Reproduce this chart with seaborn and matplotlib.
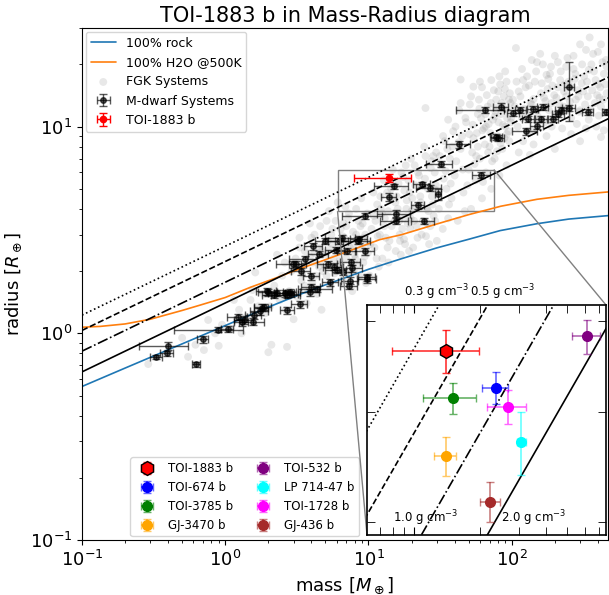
import numpy as np
import matplotlib
matplotlib.use("Agg")
import matplotlib.pyplot as plt
import seaborn as sns
from matplotlib.colors import to_rgba
from matplotlib.ticker import NullFormatter
from mpl_toolkits.axes_grid1.inset_locator import mark_inset

# ---------------- data ----------------
title = "TOI-1883 b in Mass-Radius diagram"

# model curves
rock_mass = [0.1, 0.2, 0.5, 1.0, 2.0, 3.3, 5.0, 10.0, 16.8, 30.0, 50.0, 83.0, 150.0, 250.0, 470.0]
rock_rad = [0.553, 0.679, 0.889, 1.09, 1.338, 1.54, 1.716, 2.04, 2.29, 2.59, 2.85, 3.14, 3.39, 3.57, 3.71]
h2o_mass = [0.1, 0.134, 0.2, 0.3, 0.5, 0.67, 1.0, 1.5, 2.2, 3.3, 5.0, 8.0, 12.0, 17.0, 30.0, 50.0, 84.0, 150.0, 250.0, 470.0]
h2o_rad = [1.07, 1.08, 1.11, 1.17, 1.29, 1.37, 1.49, 1.67, 1.84, 2.05, 2.27, 2.56, 2.84, 3.00, 3.38, 3.75, 4.12, 4.45, 4.65, 4.83]

densities = [0.3, 0.5, 1.0, 2.0]          # g cm^-3
dens_styles = [":", "--", "-.", "-"]

# FGK systems (mass, radius)
fgk_mass = [0.29, 0.55, 0.71, 0.76, 0.5, 0.62, 0.85, 0.95, 0.9,
            1.1, 1.25, 1.4, 1.5, 1.62, 1.7, 1.85, 2.0, 2.1, 2.7, 3.0, 2.2, 2.4, 2.5, 2.6, 2.8, 1.3, 1.9, 2.3, 2.9, 1.55, 2.05, 1.15, 2.65,
            3.2, 3.4, 3.5, 3.6, 3.8, 4.0, 4.1, 4.3, 4.5, 4.6, 4.8, 5.0, 5.2, 5.4, 5.5, 5.7, 5.9, 6.0, 6.2, 6.4, 6.6, 6.8, 7.0, 7.2, 7.4,
            7.6, 7.8, 8.0, 8.2, 8.4, 8.6, 8.8, 9.0, 9.2, 9.5, 9.8, 3.3, 3.9, 4.4, 5.3, 6.1, 6.9, 7.7, 8.9, 9.6, 3.1, 3.7, 4.2, 4.9, 5.6,
            6.3, 7.1, 7.9, 8.5, 9.3, 9.9, 10.2, 4.7, 5.1, 6.5, 7.3, 8.1, 3.45, 4.05, 5.8, 6.7,
            10.5, 11, 11.5, 12, 12.5, 13, 13.5, 14, 14.5, 15, 15.5, 16, 16.5, 17, 17.5, 18, 18.5, 19, 19.5, 20, 21, 22, 23, 24, 25, 26,
            27, 28, 29, 30, 10.8, 11.8, 12.8, 13.8, 14.8, 15.8, 16.8, 17.8, 18.8, 19.8, 20.5, 21.5, 22.5, 23.5, 24.5, 25.5, 26.5, 27.5,
            28.5, 29.5, 11.2, 12.2, 13.2, 14.2, 15.2, 16.2, 17.2, 18.2, 19.2, 20.2, 11.6, 13.7, 15.7, 17.7, 19.7, 21.7, 23.7, 25.7, 27.7, 29.7,
            31, 32, 33, 34, 35, 36, 37, 38, 39, 40, 42, 44, 46, 48, 50, 52, 54, 56, 58, 60, 62, 64, 66, 68, 70, 72, 74, 76, 78, 80, 82, 84,
            86, 88, 90, 92, 94, 96, 98, 99, 33.5, 36.5, 41, 45, 49, 53, 57, 61, 65, 69, 73, 77, 81, 85, 89, 93, 97, 38.5, 43, 51, 59, 67,
            75, 83, 34.5, 47, 55, 63, 71, 79, 87, 95,
            105, 110, 115, 120, 125, 130, 135, 140, 145, 150, 160, 170, 180, 190, 200, 210, 220, 230, 240, 250, 260, 270, 280, 290, 300,
            320, 340, 360, 380, 400, 420, 440, 460, 108, 118, 128, 138, 148, 158, 168, 178, 188, 198, 215, 235, 255, 275, 295, 315, 335,
            355, 375, 395, 415, 435, 112, 142, 175, 225, 285, 345, 405, 455, 245, 165,
            107, 200, 300, 400, 150, 350, 90, 60, 44, 54, 25, 420, 134, 200, 300,
            3.3, 3.6, 4.2, 4.7, 5.1, 5.6, 6.1, 6.6, 7.3, 7.9, 8.4, 9.1, 9.7, 3.9, 4.5, 5.4, 6.4, 7.0, 8.2, 9.4,
            10.3, 10.9, 11.4, 12.1, 12.9, 13.6, 14.4, 15.4, 16.4, 17.4, 18.4, 19.4, 20.8, 22.2, 23.2, 24.8, 26.2, 27.2, 28.8, 29.2,
            12.4, 16.6, 21.2, 25.2, 28.2,
            31.5, 33.2, 35.5, 37.5, 40.5, 42.5, 45.5, 47.5, 50.5, 53.5, 56.5, 59.5, 62.5, 65.5, 68.5, 71.5, 74.5, 77.5, 80.5, 83.5,
            86.5, 89.5, 92.5, 95.5, 98.5, 36, 44, 52, 62, 72, 82, 92, 58, 66, 76,
            102, 112, 122, 132, 142, 152, 162, 172, 182, 192, 205, 218, 232, 248, 262, 278, 292, 308, 325, 345, 365, 385, 410, 430, 450,
            118, 138, 158, 185, 210, 240, 270, 310, 330, 370, 420, 460, 128, 190, 260, 330, 390, 440, 120, 175]
fgk_rad = [0.71, 0.77, 0.83, 1.16, 0.95, 0.88, 1.0, 1.1, 0.87,
           1.05, 1.3, 1.2, 1.45, 1.97, 1.35, 1.55, 0.81, 0.88, 0.86, 1.17, 1.7, 1.45, 1.9, 2.2, 1.6, 1.0, 1.25, 2.4, 2.0, 1.62, 1.35, 1.45, 1.3,
           1.5, 1.8, 2.1, 2.5, 1.6, 2.9, 2.2, 1.9, 2.6, 3.3, 2.0, 2.4, 2.8, 1.7, 3.0, 2.3, 3.5, 2.0, 2.6, 3.2, 1.8, 2.9, 2.3, 3.6, 2.6,
           2.1, 3.1, 2.4, 4.0, 2.8, 1.9, 3.3, 2.6, 2.2, 3.0, 3.8, 2.6, 3.4, 1.55, 3.9, 4.3, 4.1, 1.6, 4.5, 1.75, 2.3, 1.4, 2.45, 2.15, 2.7,
           2.25, 2.75, 2.0, 3.5, 2.9, 2.45, 1.9, 1.3, 3.5, 2.55, 1.95, 2.3, 1.95, 1.75, 1.95, 3.4,
           3.2, 2.6, 4.2, 3.0, 2.3, 3.6, 4.8, 2.8, 3.3, 5.2, 2.5, 4.0, 3.0, 6.0, 3.6, 2.7, 4.4, 5.5, 3.2, 3.9, 6.5, 2.9, 4.6, 3.5, 7.2, 5.0,
           3.3, 4.2, 6.0, 2.8, 4.8, 2.1, 5.5, 2.2, 6.2, 3.8, 2.4, 4.9, 3.4, 7.0, 2.6, 4.1, 5.8, 3.0, 8.0, 4.0, 2.7, 6.8,
           3.7, 5.2, 3.5, 4.0, 2.9, 4.5, 3.5, 5.3, 3.2, 6.5, 2.5, 4.5, 2.95, 3.9, 4.6, 2.85, 3.6, 3.3, 5.2, 3.4, 4.6, 7.5,
           4.0, 6.5, 3.2, 8.5, 5.0, 3.6, 7.0, 4.5, 9.5, 5.8, 3.5, 7.8, 4.8, 10.5, 6.2, 4.0, 8.8, 5.5, 11.5, 7.0, 4.5, 9.8, 6.0, 12.5, 8.0,
           5.0, 10.8, 7.0, 13.5, 9.0, 5.8, 11.5, 7.8, 14.0, 10.0, 6.5, 12.0, 8.5, 13.0, 11.0, 5.6, 4.2, 6.8, 9.0, 5.2, 7.5, 9.3, 11.0, 8.2,
           10.3, 6.8, 11.8, 10.5, 13.0, 8.8, 11.0, 14.5, 8.0, 12.0, 12.8, 13.5, 14.2, 15.0, 16.0, 6.1, 3.9, 6.6, 5.4, 9.3, 7.6, 10.2, 9.5,
           12.5, 10.0, 14.0, 8.5, 15.5, 11.5, 13.0, 9.5, 16.5, 12.0, 14.5, 10.5, 17.0, 13.0, 11.5, 15.5, 18.5, 12.5, 14.0, 16.5, 11.0,
           19.0, 13.5, 15.0, 12.0, 17.5, 14.0, 20.0, 13.0, 16.0, 12.5, 18.0, 14.5, 16.5, 11.0, 17.5, 12.8, 18.5, 10.8, 13.8, 15.2, 19.5,
           14.2, 12.8, 16.0, 13.2, 17.0, 11.8, 14.8, 16.5, 12.2, 18.5, 14.2, 15.5, 13.5, 7.5, 8.2, 9.0, 9.8, 10.3, 10.8, 11.3, 21.0, 21.5, 20.0,
           24.0, 22.0, 25.0, 23.0, 20.5, 27.0, 18.5, 16.5, 16.9, 15.6, 12.3, 8.9, 7.3, 7.8, 8.5,
           2.9, 1.7, 3.0, 2.5, 1.9, 3.2, 2.45, 2.95, 3.8, 2.65, 2.15, 3.4, 2.75, 2.35, 2.1, 2.55, 2.15, 3.3, 3.0, 2.35,
           2.7, 3.7, 2.3, 4.6, 3.3, 2.6, 5.0, 4.3, 3.5, 5.7, 4.0, 4.8, 3.5, 6.0, 4.3, 5.6, 3.9, 6.3, 5.0, 3.5,
           3.8, 2.8, 5.2, 2.95, 7.2,
           7.2, 9.0, 7.8, 5.3, 10.0, 8.4, 6.2, 11.0, 9.2, 10.2, 7.2, 12.2, 9.6, 11.5, 7.5, 13.0, 9.0, 12.3, 14.8, 8.3,
           12.5, 15.2, 9.2, 13.5, 10.5, 10.8, 13.0, 14.0, 15.5, 16.8, 17.5, 16.5, 8.0, 10.0, 11.2,
           13.5, 14.8, 12.2, 15.8, 13.6, 11.2, 16.2, 13.3, 12.0, 15.8, 13.8, 16.8, 14.8, 12.0, 15.5, 18.0, 14.0, 16.2, 12.8, 18.8,
           15.0, 16.8, 13.8, 20.5, 16.0, 19.0, 21.0, 22.5, 18.0, 20.5, 19.5, 22.0, 20.0, 23.5, 22.5, 25.0, 19.5, 9.5, 10.0, 9.2,
           9.8, 10.0, 9.6, 16.8, 17.8]

# M-dwarf systems (mass, mass err, radius, radius err)
md_mass = [0.33, 0.39, 0.40, 0.70, 0.627, 0.89, 1.04, 1.30, 1.35, 1.55, 1.58, 1.75, 1.80, 2.0, 2.3, 2.6, 2.7, 2.9, 2.95,
           3.1, 1.23, 1.85, 2.2, 2.7, 3.3, 3.6, 4.0, 4.4, 4.0, 5.4, 7.3, 9.8, 4.12, 5.0, 6.2, 4.48, 5.2, 5.7, 7.5, 7.1,
           8.4, 6.0, 6.6, 7.7, 8.6, 31.9, 15.0, 13.9, 23.6, 26.8, 30.8, 22.2, 61.5, 15.5, 15.5, 24.3, 250, 83.8, 43, 80,
           78, 125, 150, 102, 130, 160, 115, 140, 165, 195, 210, 220, 250, 340, 455, 65, 3.9, 2.84, 1.95, 3.4, 6.5,
           9.5, 9.8, 7.4, 5.9, 9.5]
md_merr = [0.03, 0.04, 0.15, 0.06, 0.04, 0.45, 0.1, 0.15, 0.2, 0.3, 0.2, 0.25, 0.2, 0.3, 0.3, 0.4, 0.3, 0.3, 0.7,
           0.3, 0.2, 0.25, 0.4, 0.6, 0.4, 0.8, 0.5, 1.2, 0.6, 0.7, 1.0, 1.5, 0.6, 0.8, 1.0, 0.7, 0.8, 0.9, 1.2, 1.1,
           1.8, 1.0, 1.0, 1.3, 1.2, 6.5, 4.0, 1.6, 3.3, 5.4, 1.5, 2.3, 9.0, 4.0, 3.5, 4.5, 20, 10, 8, 8,
           8, 25, 15, 10, 12, 15, 10, 12, 15, 15, 20, 20, 25, 30, 30, 24, 0.6, 0.3, 0.3, 0.5, 1.5,
           1.5, 1.3, 1.0, 0.9, 3.0]
md_rad = [0.767, 0.80, 0.867, 0.935, 0.71, 1.04, 1.05, 1.13, 1.16, 1.14, 1.22, 1.28, 1.33, 1.58, 1.57, 1.56, 1.29, 1.55, 2.16,
          2.16, 1.20, 1.34, 1.54, 1.54, 1.38, 2.28, 1.89, 1.64, 1.67, 1.77, 1.69, 1.83, 2.64, 2.80, 2.80, 2.42, 2.16, 2.10, 2.22, 2.50,
          2.80, 2.02, 1.98, 2.06, 2.85, 6.6, 5.14, 4.57, 5.25, 5.05, 4.70, 4.17, 5.82, 3.79, 3.50, 3.50, 15.6, 12.5, 8.2, 8.8,
          8.9, 9.5, 10.1, 11.6, 10.9, 10.9, 12.0, 12.2, 12.4, 10.9, 11.5, 12.0, 12.3, 11.8, 11.8, 12.0, 1.58, 1.58, 1.60, 2.0, 2.9,
          2.5, 1.87, 1.80, 2.54, 3.70]
md_rerr = [0.02, 0.02, 0.04, 0.04, 0.02, 0.03, 0.03, 0.04, 0.05, 0.04, 0.05, 0.05, 0.05, 0.06, 0.05, 0.06, 0.05, 0.05, 0.08,
           0.07, 0.04, 0.05, 0.05, 0.06, 0.05, 0.08, 0.07, 0.06, 0.06, 0.07, 0.06, 0.08, 0.1, 0.1, 0.1, 0.09, 0.08, 0.08, 0.08, 0.09,
           0.11, 0.07, 0.07, 0.08, 0.1, 0.25, 0.16, 0.18, 0.17, 0.17, 0.3, 0.17, 0.2, 0.15, 0.13, 0.13, 5.0, 0.5, 0.3, 0.3,
           0.3, 0.4, 0.4, 0.4, 0.4, 0.4, 0.4, 0.4, 0.4, 0.4, 0.4, 0.4, 0.4, 0.4, 0.4, 0.4, 0.06, 0.05, 0.06, 0.08, 0.1,
           0.1, 0.07, 0.07, 0.09, 0.14]

# TOI-1883 b
toi_mass, toi_merr_lo, toi_merr_hi = 13.9, 6.0, 5.8
toi_rad, toi_rerr = 5.65, 0.24

# highlighted planets in the inset
hl_names = ["TOI-1883 b", "TOI-674 b", "TOI-3785 b", "GJ-3470 b", "TOI-532 b", "LP 714-47 b", "TOI-1728 b", "GJ-436 b"]
hl_colors = ["red", "blue", "green", "orange", "purple", "cyan", "magenta", "brown"]
hl_mass = [13.9, 23.6, 15.0, 13.9, 61.5, 30.8, 26.8, 22.2]
hl_merr = [5.9, 3.3, 4.1, 1.6, 9.0, 1.5, 5.4, 2.3]
hl_rad = [5.65, 5.25, 5.14, 4.57, 5.82, 4.70, 5.05, 4.17]
hl_rerr = [0.24, 0.17, 0.16, 0.18, 0.2, 0.3, 0.17, 0.17]

# ---------------- style ----------------
sns.set_style("ticks", {"axes.edgecolor": "black", "text.color": "black", "axes.labelcolor": "black",
                        "xtick.color": "black", "ytick.color": "black"})
plt.rcParams["font.family"] = ["DejaVu Sans"]
plt.rcParams["mathtext.fontset"] = "dejavusans"

fig = plt.figure(figsize=(6.09, 5.95), dpi=100)
ax = fig.add_axes([82 / 609, 55 / 595, 526 / 609, 512 / 595])
ax.set_xscale("log")
ax.set_yscale("log")

sns.lineplot(x=rock_mass, y=rock_rad, ax=ax, color="C0", lw=1.2, sort=False, label="100% rock")
sns.lineplot(x=h2o_mass, y=h2o_rad, ax=ax, color="C1", lw=1.2, sort=False, label="100% H2O @500K")

mgrid = np.logspace(-1, np.log10(600), 50)
for rho, ls in zip(densities, dens_styles):
    ax.plot(mgrid, (mgrid * 5.51 / rho) ** (1 / 3), color="black", ls=ls, lw=1.2)

sns.scatterplot(x=fgk_mass, y=fgk_rad, ax=ax, color="0.55", alpha=0.2, s=32, edgecolor="none",
                label="FGK Systems")

ax.errorbar(md_mass, md_rad, xerr=md_merr, yerr=md_rerr, fmt="o", color="black", ms=4, alpha=0.65,
            capsize=3, elinewidth=1, label="M-dwarf Systems")
ax.errorbar([toi_mass], [toi_rad], xerr=[[toi_merr_lo], [toi_merr_hi]], yerr=[toi_rerr], fmt="o",
            color="red", ms=4.5, capsize=3, elinewidth=1, label="TOI-1883 b")

ax.set_xlim(0.1, 470)
ax.set_ylim(0.1, 30)
ax.set_xlabel(r"mass [$M_\oplus$]", fontsize=13)
ax.set_ylabel(r"radius [$R_\oplus$]", fontsize=13)
ax.set_title(title, fontsize=15, pad=4)
ax.tick_params(axis="both", which="major", labelsize=13)

handles, labels = ax.get_legend_handles_labels()
order = ["100% rock", "100% H2O @500K", "FGK Systems", "M-dwarf Systems", "TOI-1883 b"]
hmap = dict(zip(labels, handles))
leg1 = ax.legend([hmap[k] for k in order], order, loc="upper left", fontsize=9, borderaxespad=0.3)
ax.add_artist(leg1)

# ---------------- inset ----------------
axin = fig.add_axes([367 / 609, 60 / 595, 239 / 609, 230 / 595])
axin.set_xscale("log")
axin.set_yscale("log")
for rho, ls in zip(densities, dens_styles):
    axin.plot(mgrid, (mgrid * 5.51 / rho) ** (1 / 3), color="black", ls=ls, lw=1.2)

hl_handles = []
for name, col, m, me, r, re in zip(hl_names, hl_colors, hl_mass, hl_merr, hl_rad, hl_rerr):
    if name == "TOI-1883 b":
        h = axin.errorbar([m], [r], xerr=[[toi_merr_lo], [toi_merr_hi]], yerr=[re], fmt="h", color=col, mec="black",
                          ms=10, ecolor=to_rgba(col, 0.8), capsize=3, elinewidth=1.2, zorder=5)
    else:
        h = axin.errorbar([m], [r], xerr=[me], yerr=[re], fmt="o", color=col, ms=7,
                          ecolor=to_rgba(col, 0.6), capsize=3, elinewidth=1.2, zorder=4)
    hl_handles.append(h)

axin.set_xlim(6.08, 75)
axin.set_ylim(3.9, 6.2)
for axis in (axin.xaxis, axin.yaxis):
    axis.set_major_formatter(NullFormatter())
    axis.set_minor_formatter(NullFormatter())
axin.tick_params(which="both", direction="in", top=True, right=True, length=6)
for sp in axin.spines.values():
    sp.set_linewidth(1.2)

axin.text(0.293, 1.015, r"0.3 g cm$^{-3}$", transform=axin.transAxes, ha="center", va="bottom", fontsize=8.5)
axin.text(0.565, 1.015, r"0.5 g cm$^{-3}$", transform=axin.transAxes, ha="center", va="bottom", fontsize=8.5)
axin.text(0.247, 0.03, r"1.0 g cm$^{-3}$", transform=axin.transAxes, ha="center", va="bottom", fontsize=8.5)
axin.text(0.695, 0.03, r"2.0 g cm$^{-3}$", transform=axin.transAxes, ha="center", va="bottom", fontsize=8.5)

mark_inset(ax, axin, loc1=1, loc2=3, fc="none", ec="0.5", lw=1)

ax.legend(hl_handles, hl_names, ncol=2, loc="lower left", bbox_to_anchor=(0.085, 0.0), fontsize=8.5,
          borderaxespad=0.3, columnspacing=1.5)

fig.savefig("out.png", dpi=100)
